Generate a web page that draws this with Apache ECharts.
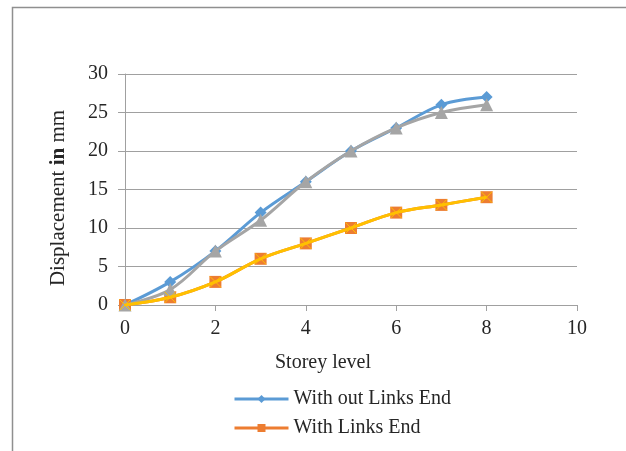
<!DOCTYPE html>
<html>
<head>
<meta charset="utf-8">
<script src="https://cdn.jsdelivr.net/npm/echarts@6/dist/echarts.min.js"></script>
<style>
  html, body { margin: 0; padding: 0; background: #fff; }
  #chart { width: 626px; height: 451px; }
</style>
</head>
<body>
<div id="chart"></div>
<script>
// Storey levels and lateral displacement (mm) per case
const storeys = [0, 1, 2, 3, 4, 5, 6, 7, 8];
const withoutLinksEnd = [0, 3, 7, 12, 16, 20, 23, 26, 27];
const withLinksEnd = [0, 1, 3, 6, 8, 10, 12, 13, 14];
const withoutLinksEndB = [0, 2, 7, 11, 16, 20, 23, 25, 26];
const withLinksEndB = [0, 1, 3, 6, 8, 10, 12, 13, 14];

const xTicks = [0, 2, 4, 6, 8, 10];
const yTicks = [0, 5, 10, 15, 20, 25, 30];

const pairs = (xs, ys) => xs.map((x, i) => [x, ys[i]]);

const serif = '"Liberation Serif", "Times New Roman", serif';
const textColor = '#262626';
const gridColor = '#a0a0a0';

const chart = echarts.init(document.getElementById('chart'), null, { renderer: 'canvas' });

const crossPath = 'path://M0,0L10,10M10,0L0,10';

chart.setOption({
  animation: false,
  backgroundColor: '#ffffff',
  graphic: [{
    type: 'rect',
    shape: { x: 12.5, y: 7.5, width: 700, height: 600 },
    style: { fill: 'none', stroke: '#8f8f8f', lineWidth: 1.5 },
    silent: true,
    z: -1
  }],
  grid: { left: 125, right: 49, top: 74, bottom: 146 },
  legend: {
    orient: 'vertical',
    left: 233,
    top: 389,
    padding: 0,
    itemWidth: 54,
    itemHeight: 10,
    itemGap: 9,
    lineStyle: { width: 3 },
    data: ['With out Links End', 'With Links End'],
    textStyle: { fontFamily: serif, fontSize: 20, color: textColor }
  },
  xAxis: {
    type: 'value',
    min: xTicks[0],
    max: xTicks[xTicks.length - 1],
    interval: 2,
    name: 'Storey level',
    nameLocation: 'middle',
    nameGap: 48,
    nameTextStyle: { fontFamily: serif, fontSize: 20, color: textColor, padding: [0, 56, 0, 0] },
    axisLine: { show: true, lineStyle: { color: gridColor, width: 1 } },
    axisTick: { show: true, inside: false, length: 6, lineStyle: { color: gridColor } },
    axisLabel: { fontFamily: serif, fontSize: 20, color: textColor, margin: 14 },
    splitLine: { show: false }
  },
  yAxis: {
    type: 'value',
    min: yTicks[0],
    max: yTicks[yTicks.length - 1],
    interval: 5,
    name: '{n|Displacement }{b|in}{n| mm}',
    nameLocation: 'middle',
    nameGap: 56,
    nameTextStyle: {
      fontFamily: serif, fontSize: 21, color: textColor, padding: [0, 17, 0, 0],
      rich: {
        n: { fontFamily: serif, fontSize: 21, color: textColor },
        b: { fontFamily: serif, fontSize: 21, color: textColor, fontWeight: 'bold' }
      }
    },
    axisLine: { show: true, lineStyle: { color: gridColor, width: 1 } },
    axisTick: { show: true, inside: false, length: 7, lineStyle: { color: gridColor } },
    axisLabel: { fontFamily: serif, fontSize: 20, color: textColor, margin: 17 },
    splitLine: { show: true, lineStyle: { color: gridColor, width: 1 } }
  },
  series: [
    {
      name: 'With out Links End',
      type: 'line',
      data: pairs(storeys, withoutLinksEnd),
      smooth: 0.35,
      symbol: 'diamond',
      symbolSize: 12,
      lineStyle: { color: '#5B9BD5', width: 3 },
      itemStyle: { color: '#5B9BD5' },
      z: 2
    },
    {
      name: 'With Links End',
      type: 'line',
      data: pairs(storeys, withLinksEnd),
      smooth: 0.35,
      symbol: 'rect',
      symbolSize: 12,
      lineStyle: { color: '#ED7D31', width: 3 },
      itemStyle: { color: '#ED7D31' },
      z: 3
    },
    {
      name: 'B1',
      type: 'line',
      data: pairs(storeys, withoutLinksEndB),
      smooth: 0.35,
      symbol: 'triangle',
      symbolSize: 13,
      lineStyle: { color: '#A5A5A5', width: 3 },
      itemStyle: { color: '#A5A5A5' },
      z: 4
    },
    {
      name: 'B2',
      type: 'line',
      data: pairs(storeys, withLinksEndB),
      smooth: 0.35,
      symbol: crossPath,
      symbolSize: 11,
      lineStyle: { color: '#FFC000', width: 3 },
      itemStyle: { color: 'none', borderColor: '#FFC000', borderWidth: 1 },
      z: 5
    }
  ]
});
</script>
</body>
</html>
